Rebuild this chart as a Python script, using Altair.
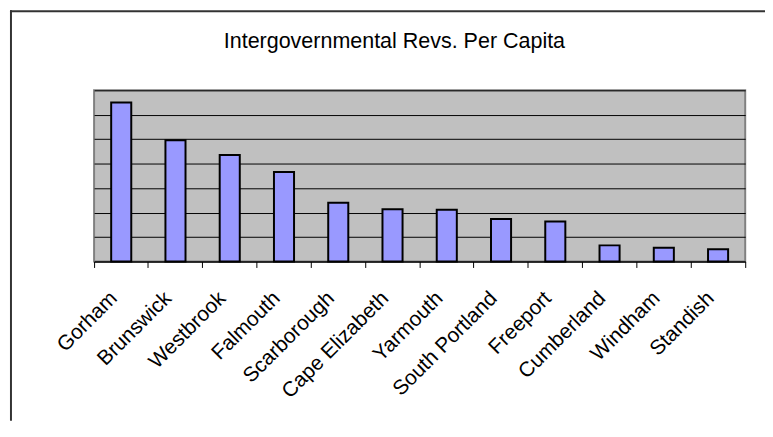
import altair as alt
import pandas as pd

title_text = "Intergovernmental Revs. Per Capita"
towns = ["Gorham", "Brunswick", "Westbrook", "Falmouth", "Scarborough",
         "Cape Elizabeth", "Yarmouth", "South Portland", "Freeport",
         "Cumberland", "Windham", "Standish"]
values = [325, 248, 218, 183, 120, 107, 106, 87, 82, 33, 28, 25]
y_ticks = [0, 50, 100, 150, 200, 250, 300, 350]

W, H = 658, 173
PAD_L, PAD_T, PAD_R, PAD_B = 87, 81, 20, 161
FONT = "Liberation Sans"

df = pd.DataFrame({"town": towns, "value": values})

bars = alt.Chart(df).mark_bar(
    width=alt.RelativeBandSize(0.37), fill="#9999FF", stroke="#000000", strokeWidth=2
).encode(
    x=alt.X("town:N", sort=towns, title=None,
            scale=alt.Scale(paddingInner=0, paddingOuter=0),
            axis=alt.Axis(bandPosition=1, tickExtra=True, labelOffset=-15,
                          labelAngle=-45, labelAlign="right", labelBaseline="top",
                          labelPadding=20, labelFont=FONT, labelFontSize=21,
                          labelColor="#000000", tickColor="#000000", tickSize=6,
                          tickWidth=1, domainColor="#000000", domainWidth=1,
                          grid=False, labelOverlap=False)),
    y=alt.Y("value:Q", title=None,
            scale=alt.Scale(domain=[0, 350], nice=False),
            axis=alt.Axis(values=y_ticks, labels=False, ticks=False, domain=False,
                          grid=True, gridColor="#000000", gridWidth=1))
)

anchor = pd.DataFrame({"t": [title_text]})
title = alt.Chart(anchor).mark_text(
    font=FONT, fontSize=21.7, align="center", baseline="alphabetic", color="#000000"
).encode(text="t:N", x=alt.value(398.5 - 95), y=alt.value(-43))

top_border = alt.Chart(anchor).mark_rule(color="#333333", strokeWidth=2).encode(
    x=alt.value(-85), x2=alt.value(W + PAD_R), y=alt.value(-80))
left_border = alt.Chart(anchor).mark_rule(color="#333333", strokeWidth=2).encode(
    x=alt.value(-84), y=alt.value(-81), y2=alt.value(H + PAD_B))

chart = alt.layer(bars, title, top_border, left_border).properties(
    width=W, height=H,
    autosize=alt.AutoSizeParams(type="none"),
    padding={"left": PAD_L, "top": PAD_T, "right": PAD_R, "bottom": PAD_B},
    background="#FFFFFF",
).configure_view(
    fill="#C0C0C0", stroke="#808080", strokeWidth=2
)

chart.save("out.html", embed_options={"renderer": "svg", "actions": False})
